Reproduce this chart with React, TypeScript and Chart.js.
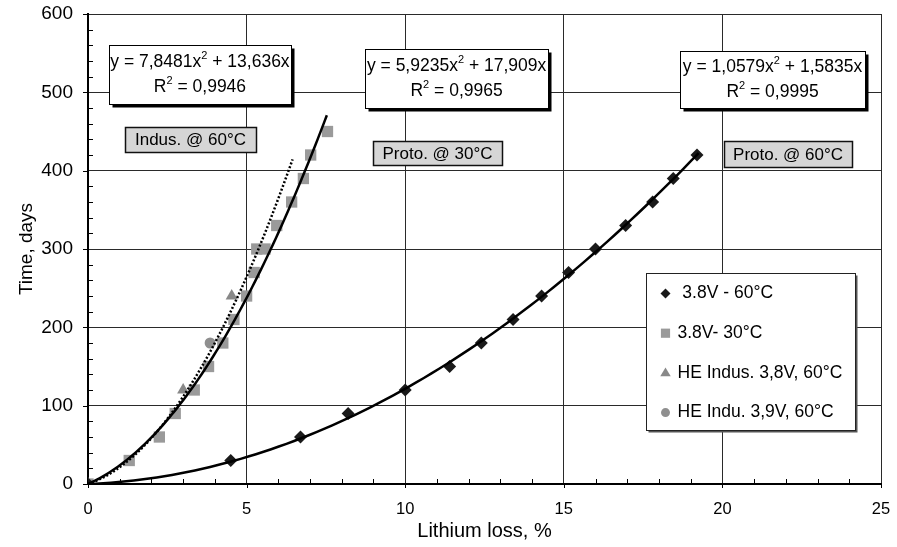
import React, { useEffect, useRef } from "react";
import { Chart, registerables } from "chart.js";
Chart.register(...registerables);

// ---- axis ticks ----
const xTickValues = [0, 5, 10, 15, 20, 25];
const yTickValues = [0, 100, 200, 300, 400, 500, 600];
const xMinorStep = 1;
const yMinorStep = 20;

// ---- data series ----
const proto60X = [0, 4.5, 6.7, 8.2, 10, 11.4, 12.4, 13.4, 14.3, 15.15, 16, 16.95, 17.8, 18.45, 19.2];
const proto60Y = [0, 30, 60, 90, 120, 150, 180, 210, 240, 270, 300, 330, 360, 390, 420];

const proto30X = [0, 1.3, 2.25, 2.75, 3.35, 3.8, 4.25, 4.6, 5.0, 5.24, 5.32, 5.58, 5.95, 6.42, 6.79, 7.02, 7.55];
const proto30Y = [0, 30, 60, 90, 120, 150, 180, 210, 240, 270, 300, 300, 330, 360, 390, 420, 450];

const indus38X = [0, 3.0, 4.53];
const indus38Y = [0, 120, 240];

const indus39X = [0, 3.85];
const indus39Y = [0, 180];

// ---- trendlines (coefficients as printed on the chart: y = a x^2 + b x) ----
const fitProto60 = { a: 1.0579, b: 1.5835, xMax: 19.25 };
const fitProto30 = { a: 5.9235, b: 17.909, xMax: 7.53 };
const fitIndus = { a: 7.8481, b: 13.636, xMax: 6.45 };

const legendLabels = [" 3.8V - 60°C", "3.8V- 30°C", "HE Indus. 3,8V, 60°C", "HE Indu. 3,9V, 60°C"];

const FONT = "'Liberation Sans', Arial, sans-serif";

function trend(f: { a: number; b: number; xMax: number }) {
  const pts: { x: number; y: number }[] = [];
  const n = 80;
  for (let i = 0; i <= n; i++) {
    const x = (f.xMax * i) / n;
    pts.push({ x, y: f.a * x * x + f.b * x });
  }
  return pts;
}

function zip(xs: number[], ys: number[]) {
  return xs.map((x, i) => ({ x, y: ys[i] }));
}

type Seg = { t: string; sup?: boolean };

function drawRich(ctx: CanvasRenderingContext2D, segs: Seg[], cx: number, cy: number, size: number) {
  const normal = `${size}px ${FONT}`;
  const small = `${Math.round(size * 0.62)}px ${FONT}`;
  let w = 0;
  for (const s of segs) {
    ctx.font = s.sup ? small : normal;
    w += ctx.measureText(s.t).width;
  }
  let x = cx - w / 2;
  ctx.textBaseline = "middle";
  ctx.textAlign = "left";
  for (const s of segs) {
    ctx.font = s.sup ? small : normal;
    ctx.fillText(s.t, x, s.sup ? cy - size * 0.38 : cy);
    x += ctx.measureText(s.t).width;
  }
}

const eqBoxes = [
  { cx: 3.53, cy: 522.8, w: 182, h: 59, l1: [{ t: "y = 7,8481x" }, { t: "2", sup: true }, { t: " + 13,636x" }], l2: [{ t: "R" }, { t: "2", sup: true }, { t: " = 0,9946" }] },
  { cx: 11.62, cy: 517.7, w: 183, h: 59, l1: [{ t: "y = 5,9235x" }, { t: "2", sup: true }, { t: " + 17,909x" }], l2: [{ t: "R" }, { t: "2", sup: true }, { t: " = 0,9965" }] },
  { cx: 21.58, cy: 516.4, w: 185, h: 57, l1: [{ t: "y = 1,0579x" }, { t: "2", sup: true }, { t: " + 1,5835x" }], l2: [{ t: "R" }, { t: "2", sup: true }, { t: " = 0,9995" }] },
];

const grayLabels = [
  { cx: 3.23, cy: 439.8, w: 131, h: 25, text: "Indus. @ 60°C" },
  { cx: 11.02, cy: 422.6, w: 129, h: 24, text: "Proto. @ 30°C" },
  { cx: 22.07, cy: 421.3, w: 128, h: 26, text: "Proto. @ 60°C" },
];

function drawMarker(ctx: CanvasRenderingContext2D, style: string, x: number, y: number, r: number) {
  ctx.beginPath();
  if (style === "rectRot") {
    ctx.moveTo(x, y - r);
    ctx.lineTo(x + r, y);
    ctx.lineTo(x, y + r);
    ctx.lineTo(x - r, y);
  } else if (style === "rect") {
    const s = r * Math.SQRT1_2;
    ctx.rect(x - s, y - s, 2 * s, 2 * s);
  } else if (style === "triangle") {
    ctx.moveTo(x, y - r);
    ctx.lineTo(x + r * 0.95, y + r * 0.6);
    ctx.lineTo(x - r * 0.95, y + r * 0.6);
  } else {
    ctx.arc(x, y, r, 0, Math.PI * 2);
  }
  ctx.closePath();
  ctx.fill();
}

const overlayPlugin = {
  id: "overlay",
  afterDraw(chart: any) {
    const { ctx, chartArea, scales } = chart;
    const xs = scales.x;
    const ys = scales.y;
    ctx.save();
    // ticks
    ctx.strokeStyle = "#000";
    ctx.lineWidth = 1;
    for (let v = 0; v <= 25 + 1e-9; v += xMinorStep) {
      const px = Math.round(xs.getPixelForValue(v)) + 0.5;
      ctx.beginPath();
      if (Math.abs(v % 5) < 1e-9) {
        ctx.moveTo(px, chartArea.bottom);
        ctx.lineTo(px, chartArea.bottom + 4);
      } else {
        ctx.moveTo(px, chartArea.bottom);
        ctx.lineTo(px, chartArea.bottom - 5);
      }
      ctx.stroke();
    }
    for (let v = 0; v <= 600 + 1e-9; v += yMinorStep) {
      const py = Math.round(ys.getPixelForValue(v)) + 0.5;
      ctx.beginPath();
      if (Math.abs(v % 100) < 1e-9) {
        ctx.moveTo(chartArea.left - 5, py);
        ctx.lineTo(chartArea.left, py);
      } else {
        ctx.moveTo(chartArea.left, py);
        ctx.lineTo(chartArea.left + 5, py);
      }
      ctx.stroke();
    }

    // equation boxes
    for (const b of eqBoxes) {
      const cx = xs.getPixelForValue(b.cx);
      const cy = ys.getPixelForValue(b.cy);
      const l = Math.round(cx - b.w / 2) + 0.5;
      const t = Math.round(cy - b.h / 2) + 0.5;
      ctx.fillStyle = "#000";
      ctx.fillRect(l + 3, t + 3, b.w, b.h);
      ctx.fillStyle = "#fff";
      ctx.fillRect(l, t, b.w, b.h);
      ctx.strokeStyle = "#000";
      ctx.lineWidth = 1;
      ctx.strokeRect(l, t, b.w, b.h);
      ctx.fillStyle = "#000";
      drawRich(ctx, b.l1 as Seg[], cx, cy - 12, 17.5);
      drawRich(ctx, b.l2 as Seg[], cx, cy + 13, 17.5);
    }

    // gray labels
    for (const g of grayLabels) {
      const cx = xs.getPixelForValue(g.cx);
      const cy = ys.getPixelForValue(g.cy);
      const l = Math.round(cx - g.w / 2) + 0.5;
      const t = Math.round(cy - g.h / 2) + 0.5;
      ctx.fillStyle = "#d6d6d6";
      ctx.fillRect(l, t, g.w, g.h);
      ctx.strokeStyle = "#111";
      ctx.lineWidth = 1.5;
      ctx.strokeRect(l, t, g.w, g.h);
      ctx.fillStyle = "#000";
      ctx.font = `17px ${FONT}`;
      ctx.textAlign = "center";
      ctx.textBaseline = "middle";
      ctx.fillText(g.text, cx, cy + 1);
    }

    // legend
    const lx = Math.round(xs.getPixelForValue(17.59)) + 0.5;
    const ly = Math.round(ys.getPixelForValue(269.4)) + 0.5;
    const lw = 209;
    const lh = 157;
    ctx.fillStyle = "#555";
    ctx.fillRect(lx + 2, ly + 2, lw, lh);
    ctx.fillStyle = "#fff";
    ctx.fillRect(lx, ly, lw, lh);
    ctx.strokeStyle = "#222";
    ctx.lineWidth = 1;
    ctx.strokeRect(lx, ly, lw, lh);
    const styles = [
      { style: "rectRot", r: 5, color: "#1a1a1a" },
      { style: "rect", r: 6.5, color: "#9a9a9a" },
      { style: "triangle", r: 5.5, color: "#888" },
      { style: "circle", r: 4.5, color: "#8f8f8f" },
    ];
    legendLabels.forEach((txt, i) => {
      const rowY = ly + 20 + i * 39.7;
      const s = styles[i];
      ctx.fillStyle = s.color;
      drawMarker(ctx, s.style, lx + 19, rowY, s.r);
      ctx.fillStyle = "#000";
      ctx.font = `17.5px ${FONT}`;
      ctx.textAlign = "left";
      ctx.textBaseline = "middle";
      ctx.fillText(txt, lx + 31, rowY);
    });
    ctx.restore();
  },
};

export default function App() {
  const ref = useRef<HTMLCanvasElement | null>(null);
  useEffect(() => {
    if (!ref.current) return;
    const chart = new Chart(ref.current, {
      type: "scatter",
      data: {
        datasets: [
          { label: "fit60", data: trend(fitProto60), showLine: true, borderColor: "#000", borderWidth: 2.5, pointRadius: 0, tension: 0, order: 0 } as any,
          { label: "fit30", data: trend(fitProto30), showLine: true, borderColor: "#000", borderWidth: 2.5, pointRadius: 0, tension: 0, order: 0 } as any,
          { label: "fitIndus", data: trend(fitIndus), showLine: true, borderColor: "#000", borderWidth: 2.5, borderDash: [2, 2], pointRadius: 0, tension: 0, order: 0 } as any,
          { label: legendLabels[0], data: zip(proto60X, proto60Y), pointStyle: "rectRot", pointRadius: 6.5, backgroundColor: "#1a1a1a", borderColor: "#1a1a1a", borderWidth: 0, order: 1 },
          { label: legendLabels[1], data: zip(proto30X, proto30Y), pointStyle: "rect", pointRadius: 8, backgroundColor: "#9a9a9a", borderColor: "#9a9a9a", borderWidth: 0, order: 2 },
          { label: legendLabels[2], data: zip(indus38X, indus38Y), pointStyle: "triangle", pointRadius: 7, backgroundColor: "#888", borderColor: "#888", borderWidth: 0, order: 1 },
          { label: legendLabels[3], data: zip(indus39X, indus39Y), pointStyle: "circle", pointRadius: 5.5, backgroundColor: "#8f8f8f", borderColor: "#8f8f8f", borderWidth: 0, order: 1 },
        ],
      },
      options: {
        responsive: false,
        animation: false,
        events: [],
        layout: { padding: { top: 14, right: 16, left: 0, bottom: 0 } },
        plugins: { legend: { display: false }, tooltip: { enabled: false } },
        scales: {
          x: {
            type: "linear",
            min: 0,
            max: 25,
            afterBuildTicks: (s: any) => {
              s.ticks = xTickValues.map((v) => ({ value: v }));
            },
            afterFit: (s: any) => {
              s.height = 63;
              s.paddingLeft = 0;
              s.paddingRight = 0;
            },
            ticks: { font: { family: FONT, size: 16.5 }, color: "#000", padding: 16, maxRotation: 0 },
            grid: { color: "#2a2a2a", lineWidth: 1, drawTicks: false },
            border: { color: "#000", width: 2 },
            title: { display: true, text: "Lithium loss, %", color: "#000", font: { family: FONT, size: 20 }, padding: { top: 0, bottom: 4 } },
          },
          y: {
            type: "linear",
            min: 0,
            max: 600,
            afterBuildTicks: (s: any) => {
              s.ticks = yTickValues.map((v) => ({ value: v }));
            },
            afterFit: (s: any) => {
              s.width = 88;
              s.paddingTop = 0;
              s.paddingBottom = 0;
            },
            ticks: { font: { family: FONT, size: 19 }, color: "#000", padding: 15 },
            grid: { color: "#2a2a2a", lineWidth: 1, drawTicks: false },
            border: { color: "#000", width: 2 },
            title: { display: true, text: "Time, days", color: "#000", font: { family: FONT, size: 19 }, padding: { top: 15, bottom: 0 } },
          },
        },
      },
      plugins: [overlayPlugin],
    } as any);
    return () => chart.destroy();
  }, []);
  return (
    <div style={{ position: "fixed", left: 0, top: 0, width: 897, height: 547, background: "#fff" }}>
      <canvas ref={ref} width={897} height={547} style={{ display: "block" }} />
    </div>
  );
}
